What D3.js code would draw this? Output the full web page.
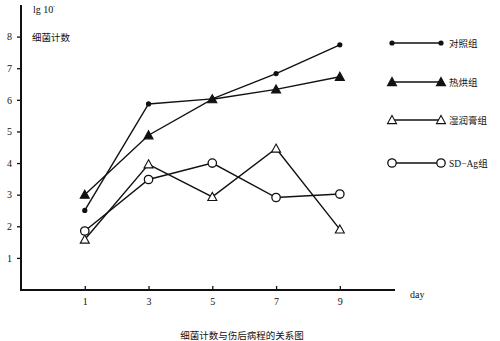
<!DOCTYPE html>
<html>
<head>
<meta charset="utf-8">
<script src="https://cdn.jsdelivr.net/npm/d3@7"></script>
<style>
  body { margin: 0; background: #fff; }
  text { font-family: "Liberation Serif", "DejaVu Serif", serif; fill: #111; }
  .cjk { font-family: "Noto Sans CJK SC", sans-serif; }
</style>
</head>
<body>
<script>
// data
var days = [1, 3, 5, 7, 9];
var control = [2.5, 5.87, 6.03, 6.83, 7.74];   // 对照组
var heat = [3.0, 4.88, 6.02, 6.33, 6.73];      // 热烘组
var moist = [1.58, 3.96, 2.93, 4.46, 1.9];     // 湿润膏组
var sdag = [1.85, 3.48, 4.0, 2.91, 3.02];      // SD-Ag组
var yTicks = [1, 2, 3, 4, 5, 6, 7, 8];
var seriesNames = ["对照组", "热烘组", "湿润膏组", "SD\u2212Ag组"];

var width = 500, height = 341;

var svg = d3.select("body").append("svg")
            .attr("width", width)
            .attr("height", height);

var x = d3.scaleLinear().domain([-1, 10.73]).range([21, 395]);
var y = d3.scaleLinear().domain([0, 9]).range([289.5, 5]);

// y axis
var yAxis = svg.append("g")
               .attr("transform", "translate(21,0)")
               .call(d3.axisLeft(y).tickValues(yTicks).tickSize(4).tickPadding(5));
yAxis.select(".domain").attr("d", "M0," + y(9) + "V" + 291).attr("stroke", "#111").attr("stroke-width", 2);
yAxis.selectAll(".tick line").attr("stroke", "#111").attr("stroke-width", 1.3);
yAxis.selectAll(".tick text").attr("font-size", 10).attr("font-family", "Liberation Serif");

// x axis
var xAxis = svg.append("g")
               .attr("transform", "translate(0,290)")
               .call(d3.axisBottom(x).tickValues(days).tickSize(0).tickPadding(8));
xAxis.select(".domain").attr("d", "M20,0H395").attr("stroke", "#111").attr("stroke-width", 2);
xAxis.selectAll(".tick line").attr("y2", -4).attr("stroke", "#111").attr("stroke-width", 1.3);
xAxis.selectAll(".tick text").attr("font-size", 10).attr("font-family", "Liberation Serif");

svg.append("text").attr("x", 410).attr("y", 298).attr("font-size", 10).text("day");

// axis titles
var yl = svg.append("text").attr("x", 33).attr("y", 13).attr("font-size", 10);
yl.append("tspan").text("lg 10");
yl.append("tspan").attr("dy", -3).attr("font-size", 7).text("\u2032");
svg.append("text").attr("class", "cjk").attr("x", 32).attr("y", 41).attr("font-size", 9.5).text("细菌计数");

svg.append("text").attr("class", "cjk").attr("x", 242).attr("y", 339)
   .attr("text-anchor", "middle").attr("font-size", 9.5).text("细菌计数与伤后病程的关系图");

// markers
function drawMarker(g, kind, cx, cy) {
  if (kind === "dot") {
    g.append("circle").attr("cx", cx).attr("cy", cy).attr("r", 2.6).attr("fill", "#111");
  } else if (kind === "ring") {
    g.append("circle").attr("cx", cx).attr("cy", cy).attr("r", 4.2)
     .attr("fill", "#fff").attr("stroke", "#111").attr("stroke-width", 1.3);
  } else {
    var s = 4.5;
    g.append("path")
     .attr("d", "M" + cx + "," + (cy - s) + "L" + (cx + s) + "," + (cy + s * 0.8) + "L" + (cx - s) + "," + (cy + s * 0.8) + "Z")
     .attr("fill", kind === "tri" ? "#111" : "#fff")
     .attr("stroke", "#111").attr("stroke-width", 1.1);
  }
}

var series = [
  {name: seriesNames[0], values: control, kind: "dot"},
  {name: seriesNames[1], values: heat, kind: "tri"},
  {name: seriesNames[2], values: moist, kind: "otri"},
  {name: seriesNames[3], values: sdag, kind: "ring"}
];

var line = d3.line()
             .x(function(d) { return x(d.day); })
             .y(function(d) { return y(d.v); });

series.forEach(function(s) {
  var pts = days.map(function(d, i) { return {day: d, v: s.values[i]}; });
  var g = svg.append("g");
  g.append("path").datum(pts).attr("d", line)
   .attr("fill", "none").attr("stroke", "#111").attr("stroke-width", 1.4);
  pts.forEach(function(p) { drawMarker(g, s.kind, x(p.day), y(p.v)); });
});

// legend
var legY = [43, 82, 120, 163];
series.forEach(function(s, i) {
  var g = svg.append("g");
  g.append("line").attr("x1", 392).attr("x2", 441).attr("y1", legY[i]).attr("y2", legY[i])
   .attr("stroke", "#111").attr("stroke-width", 1.3);
  drawMarker(g, s.kind, 392, legY[i]);
  drawMarker(g, s.kind, 441, legY[i]);
  var t = svg.append("text").attr("x", 449).attr("y", legY[i] + 4).attr("font-size", 9.5);
  if (i === 3) {
    t.append("tspan").text("SD\u2212Ag");
    t.append("tspan").attr("class", "cjk").text("组");
  } else {
    t.attr("class", "cjk").text(s.name);
  }
});
</script>
</body>
</html>
